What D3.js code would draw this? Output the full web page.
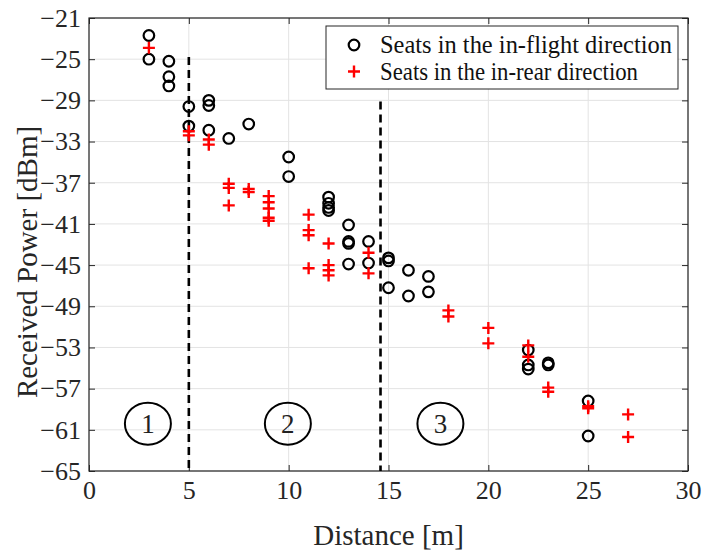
<!DOCTYPE html>
<html><head><meta charset="utf-8">
<script src="https://cdn.jsdelivr.net/npm/d3@7"></script>
<style>body{margin:0;background:#fff;} text{font-family:"Liberation Serif","Times New Roman",serif;}</style>
</head><body>
<svg id="c" width="707" height="552"></svg>
<script>
const flightX = [3,3, 4,4,4, 5,5, 6,6,6, 7, 8, 10,10, 12,12,12,12, 13,13,13,13, 14,14, 15,15,15, 16,16, 17,17, 22,22,22, 23,23, 25,25];
const flightY = [-22.7,-25.0, -25.2,-26.7,-27.6, -29.6,-31.5, -29.0,-29.5,-31.9, -32.7, -31.3, -34.5,-36.4, -38.4,-39.0,-39.4,-39.7, -41.1,-42.7,-42.9,-44.9, -42.7,-44.8, -44.3,-44.6,-47.2, -45.5,-48.0, -46.1,-47.6, -53.25,-54.7,-55.1, -54.5,-54.7, -58.2,-61.6];
const rearX = [3, 5,5, 6,6, 7,7,7, 8,8, 9,9,9,9,9, 11,11,11,11, 12,12,12,12, 14,14, 18,18, 20,20, 22,22, 23,23, 25,25, 27,27];
const rearY = [-23.9, -32.0,-32.4, -32.8,-33.3, -37.1,-37.5,-39.2, -37.6,-37.9, -38.3,-38.9,-39.5,-40.4,-40.7, -40.1,-41.6,-42.1,-45.3, -42.9,-45.0,-45.5,-46.0, -43.8,-45.8, -49.4,-50.0, -51.1,-52.6, -52.8,-53.9, -56.9,-57.3, -58.7,-58.9, -59.5,-61.7];
const xTicks = [0,5,10,15,20,25,30];
const yTicks = [-21,-25,-29,-33,-37,-41,-45,-49,-53,-57,-61,-65];
const regionLines = [{x:5, top:-24.8}, {x:14.6, top:-29.1}];
const regionLabels = [{x:2.95, y:-60.4, t:"1"}, {x:9.96, y:-60.4, t:"2"}, {x:17.6, y:-60.4, t:"3"}];
const legendLabels = ["Seats in the in-flight direction", "Seats in the in-rear direction"];

const L=89, T=18, W=599, H=453;
const svg = d3.select("#c");
const x = d3.scaleLinear().domain([0,30]).range([L, L+W]);
const y = d3.scaleLinear().domain([-65,-21]).range([T+H, T]);

// grid
const g = svg.append("g");
g.selectAll(".gx").data(xTicks).enter().append("line")
  .attr("x1",d=>x(d)).attr("x2",d=>x(d)).attr("y1",T).attr("y2",T+H)
  .attr("stroke","#e3e3e3").attr("stroke-width",1);
g.selectAll(".gy").data(yTicks).enter().append("line")
  .attr("x1",L).attr("x2",L+W).attr("y1",d=>y(d)).attr("y2",d=>y(d))
  .attr("stroke","#e3e3e3").attr("stroke-width",1);

// axes
const xa = svg.append("g").attr("transform",`translate(0,${T+H})`)
  .call(d3.axisBottom(x).tickValues(xTicks).tickSizeInner(-6).tickSizeOuter(0).tickPadding(10));
const xt = svg.append("g").attr("transform",`translate(0,${T})`)
  .call(d3.axisTop(x).tickValues(xTicks).tickSizeInner(-6).tickSizeOuter(0).tickFormat(""));
const ya = svg.append("g").attr("transform",`translate(${L},0)`)
  .call(d3.axisLeft(y).tickValues(yTicks).tickSizeInner(-6).tickSizeOuter(0).tickPadding(8));
const yr = svg.append("g").attr("transform",`translate(${L+W},0)`)
  .call(d3.axisRight(y).tickValues(yTicks).tickSizeInner(-6).tickSizeOuter(0).tickFormat(""));
[xa,xt,ya,yr].forEach(a=>{
  a.select(".domain").remove();
  a.selectAll("line").attr("stroke","#262626");
  a.selectAll("text").attr("font-size",26).attr("fill","#262626")
   .attr("font-family","'Liberation Serif',serif");
});
svg.append("rect").attr("x",L).attr("y",T).attr("width",W).attr("height",H)
  .attr("fill","none").attr("stroke","#262626").attr("stroke-width",1.2);

// region dashed lines
svg.selectAll(".rl").data(regionLines).enter().append("line")
  .attr("x1",d=>x(d.x)).attr("x2",d=>x(d.x)).attr("y1",d=>y(d.top)).attr("y2",T+H)
  .attr("stroke","#000").attr("stroke-width",2.6).attr("stroke-dasharray","8,5");

// region labels
const rg = svg.selectAll(".rg").data(regionLabels).enter().append("g");
rg.append("ellipse").attr("cx",d=>x(d.x)).attr("cy",d=>y(d.y)).attr("rx",23).attr("ry",21)
  .attr("fill","none").attr("stroke","#000").attr("stroke-width",2);
rg.append("text").attr("x",d=>x(d.x)).attr("y",d=>y(d.y)+9).attr("text-anchor","middle")
  .attr("font-size",27).attr("fill","#222").text(d=>d.t);

// data
const flight = flightX.map((v,i)=>({x:v,y:flightY[i]}));
const rear = rearX.map((v,i)=>({x:v,y:rearY[i]}));
const plus = (cx,cy,s)=>`M${cx-s},${cy}H${cx+s}M${cx},${cy-s}V${cy+s}`;
svg.selectAll(".fp").data(flight).enter().append("circle")
  .attr("cx",d=>x(d.x)).attr("cy",d=>y(d.y)).attr("r",5.3)
  .attr("fill","none").attr("stroke","#000").attr("stroke-width",2.2);
svg.selectAll(".rp").data(rear).enter().append("path")
  .attr("d",d=>plus(x(d.x),y(d.y),6))
  .attr("fill","none").attr("stroke","#ff0000").attr("stroke-width",2.4);

// legend
svg.append("rect").attr("x",326).attr("y",26).attr("width",352).attr("height",63)
  .attr("fill","#fff").attr("stroke","#262626").attr("stroke-width",1);
svg.append("circle").attr("cx",354).attr("cy",45).attr("r",5.3)
  .attr("fill","none").attr("stroke","#000").attr("stroke-width",2.2);
svg.append("path").attr("d",plus(354,71.5,6)).attr("stroke","#ff0000").attr("stroke-width",2.4);
svg.selectAll(".lt").data(legendLabels).enter().append("text")
  .attr("x",380).attr("y",(d,i)=>53+i*27).attr("font-size",25).attr("fill","#111")
  .attr("textLength",(d,i)=>i===0?292:258).attr("lengthAdjust","spacingAndGlyphs").text(d=>d);

// axis labels
svg.append("text").attr("x",x(15)).attr("y",545).attr("text-anchor","middle")
  .attr("font-size",29).attr("fill","#262626").text("Distance [m]");
svg.append("text").attr("transform",`translate(37,262) rotate(-90)`).attr("text-anchor","middle")
  .attr("font-size",29).attr("fill","#262626").text("Received Power [dBm]");
</script>
</body></html>
